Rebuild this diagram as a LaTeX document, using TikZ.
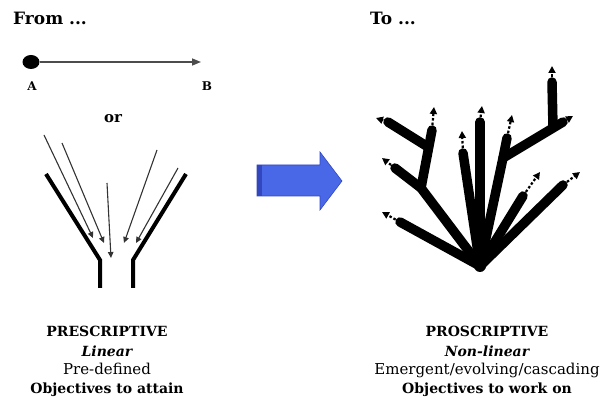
\documentclass[tikz,border=0pt]{standalone}
\usepackage{fontspec}
\setmainfont{DejaVu Serif}
\usetikzlibrary{arrows.meta,shapes.geometric}
\begin{document}
\begin{tikzpicture}[x=1pt,y=-1pt,
  lbl/.style={inner sep=0pt, anchor=base},
  headtxt/.style={inner sep=0pt, anchor=base west, font=\bfseries\fontsize{17}{17}\selectfont},
  captxt/.style={inner sep=0pt, anchor=base, font=\fontsize{15}{15}\selectfont},
  capbold/.style={inner sep=0pt, anchor=base, font=\bfseries\fontsize{14}{14}\selectfont},
  thinarrow/.style={draw=black!80, line width=1.1pt, -{Triangle[length=6pt,width=5.5pt]}},
  funnel/.style={draw=black, line width=4pt},
  limb/.style={draw=black, line width=9.5pt, line cap=round, line join=round},
  sprout/.style={draw=black, line width=2.2pt, dash pattern=on 2.5pt off 2pt, -{Triangle[length=7pt,width=7pt]}, shorten <=5pt},
]
\useasboundingbox (0,0) rectangle (600,403);
\definecolor{bigblue}{RGB}{72,104,232}
\definecolor{bigblueedge}{RGB}{50,70,190}

% headings
\node[headtxt] (from) at (13,25) {From ...};
\node[headtxt] (to) at (370,25) {To ...};

% A -> B
\node[fill=black, ellipse, minimum width=17pt, minimum height=14pt, inner sep=0pt] (dotA) at (31,62) {};
\coordinate (ptB) at (201,62);
\draw[draw=black!70, line width=1.5pt, -{Triangle[length=9pt,width=7pt]}] (dotA) -- (ptB);
\node[lbl, font=\bfseries\fontsize{12}{12}\selectfont] (labA) at (32,91) {A};
\node[lbl, font=\bfseries\fontsize{12}{12}\selectfont] (labB) at (207,91) {B};
\node[lbl, font=\bfseries\fontsize{15}{15}\selectfont] (or) at (113,123) {or};

% funnel
\coordinate (fl1) at (46,174); \coordinate (fl2) at (100,260); \coordinate (fl3) at (100,288);
\coordinate (fr1) at (186,174); \coordinate (fr2) at (133,260); \coordinate (fr3) at (133,288);
\draw[funnel] (fl1) -- (fl2) -- (fl3);
\draw[funnel] (fr1) -- (fr2) -- (fr3);
\coordinate (s1) at (44,135);  \coordinate (e1) at (93,238);
\coordinate (s2) at (62,143);  \coordinate (e2) at (104,243);
\coordinate (s3) at (107,183); \coordinate (e3) at (111,258);
\coordinate (s4) at (157,150); \coordinate (e4) at (124,243);
\coordinate (s5) at (178,168); \coordinate (e5) at (136,243);
\draw[thinarrow] (s1) -- (e1);
\draw[thinarrow] (s2) -- (e2);
\draw[thinarrow] (s3) -- (e3);
\draw[thinarrow] (s4) -- (e4);
\draw[thinarrow] (s5) -- (e5);

% big blue arrow
\filldraw[fill=bigblue, draw=bigblueedge, line width=0.6pt]
  (257,165) -- (320,165) -- (320,152) -- (342,181) -- (320,210) -- (320,196) -- (257,196) -- cycle;
\fill[bigblueedge] (257,165) rectangle (262,196);

% tree
\coordinate (R) at (480,266);
\coordinate (b1) at (400,222);  \coordinate (t1) at (382,212);
\coordinate (J1) at (421,188);  \coordinate (b2) at (395,168); \coordinate (t2) at (382,158);
\coordinate (V1) at (432,130);  \coordinate (tv1) at (434,107);
\coordinate (K1) at (428,147);  \coordinate (b2u) at (388,122); \coordinate (t2u) at (376,118);
\coordinate (b3) at (463,153);  \coordinate (t3) at (462,131);
\coordinate (b4) at (480,122);  \coordinate (t4) at (482,106);
\coordinate (J5) at (503,158);  \coordinate (b5) at (507,138); \coordinate (t5) at (512,115);
\coordinate (b5r) at (563,122); \coordinate (t5r) at (573,116);
\coordinate (K5) at (553,127);  \coordinate (V5) at (552,82);  \coordinate (tv5) at (552,66);
\coordinate (b6) at (523,196);  \coordinate (t6) at (540,172);
\coordinate (b7) at (563,185);  \coordinate (t7) at (580,172);

\draw[limb] (R) -- (b1);
\draw[limb] (R) -- (J1) -- (b2);
\draw[limb] (J1) -- (V1);
\draw[limb] (K1) -- (b2u);
\draw[limb] (R) -- (b3);
\draw[limb] (R) -- (b4);
\draw[limb] (R) -- (J5) -- (b5);
\draw[limb] (J5) -- (b5r);
\draw[limb] (K5) -- (V5);
\draw[limb] (R) -- (b6);
\draw[limb] (R) -- (b7);
\fill[black] (R) circle (6pt);

\draw[sprout] (b1) -- (t1);
\draw[sprout] (b2) -- (t2);
\draw[sprout] (b2u) -- (t2u);
\draw[sprout] (V1) -- (tv1);
\draw[sprout] (b3) -- (t3);
\draw[sprout] (b4) -- (t4);
\draw[sprout] (b5) -- (t5);
\draw[sprout] (b5r) -- (t5r);
\draw[sprout] (V5) -- (tv5);
\draw[sprout] (b6) -- (t6);
\draw[sprout] (b7) -- (t7);

% captions
\node[capbold] (lt1) at (107,337) {PRESCRIPTIVE};
\node[capbold] (lt2) at (107,356) {\itshape Linear};
\node[captxt] (lt3) at (107,375) {Pre-defined};
\node[capbold] (lt4) at (107,393) {Objectives to attain};
\node[capbold] (rt1) at (487,337) {PROSCRIPTIVE};
\node[capbold] (rt2) at (487,356) {\itshape Non-linear};
\node[captxt] (rt3) at (487,375) {Emergent/evolving/cascading};
\node[capbold] (rt4) at (487,393) {Objectives to work on};
\end{tikzpicture}
\end{document}
